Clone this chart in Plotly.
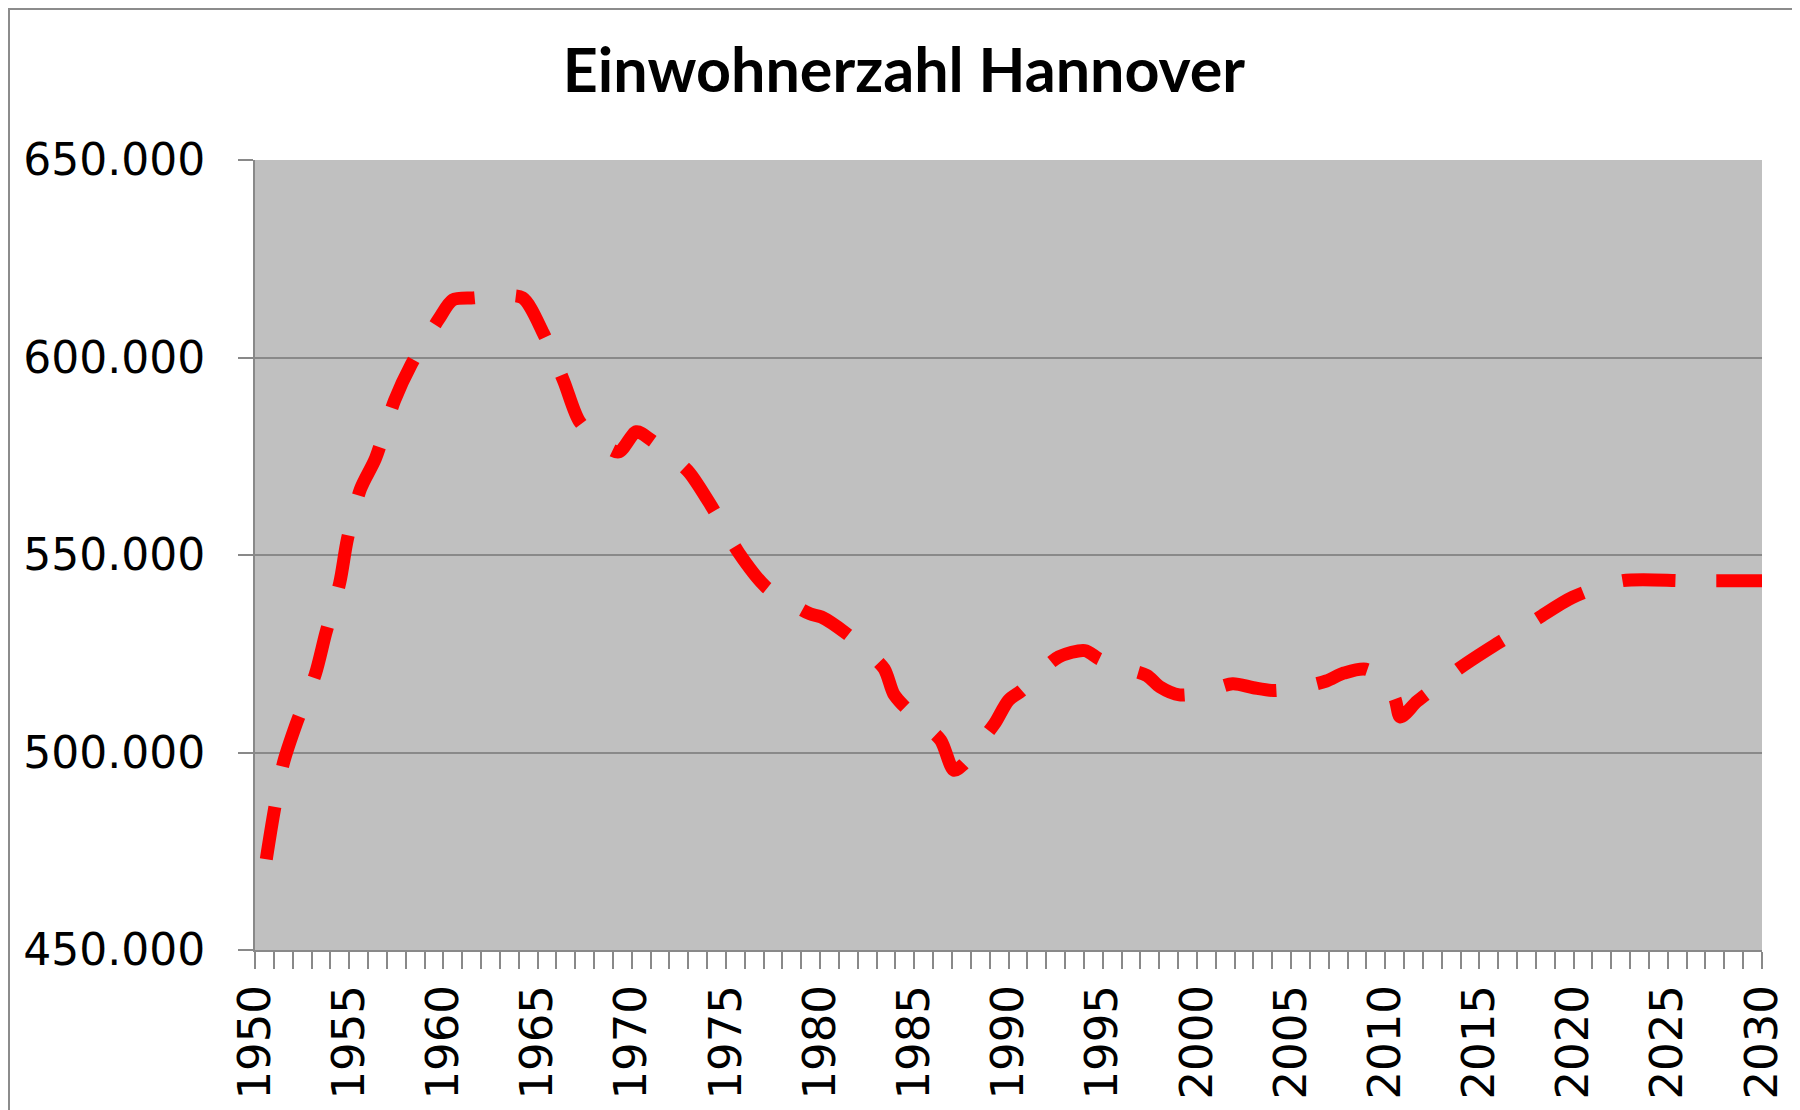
import plotly.graph_objects as go

# Data (fractional years, inhabitants)
years = [1950.6, 1951.0, 1951.5, 1952.2, 1953.2, 1953.75, 1954.5, 1954.9, 1955.6, 1956.4,
         1957.4, 1958.3, 1959.75, 1960.5, 1961.6, 1962.9, 1964.2, 1965.3, 1966.4, 1967.2,
         1968.2, 1969.3, 1970.25, 1971.0, 1972.0, 1973.05, 1974.3, 1975.7, 1977.1, 1978.3,
         1979.46, 1980.07, 1981.4, 1982.4, 1983.4, 1983.9, 1984.4, 1985.4, 1986.4, 1987.1,
         1987.6, 1988.4, 1989.26, 1990.0, 1990.7, 1991.7, 1992.67, 1994.05, 1994.8, 1996.0,
         1997.34, 1998.05, 1999.07, 2000.5, 2001.9, 2003.0, 2004.05, 2005.5, 2006.87, 2007.8,
         2009.05, 2010.47, 2010.8, 2011.7, 2012.8, 2013.9, 2015.78, 2017.0, 2018.15, 2019.95,
         2022.6, 2026.0, 2030.0]
population = [473000, 484700, 497200, 507400, 519800, 530100, 543000, 553900, 566700, 574500,
              589000, 598300, 609700, 614600, 615100, 615600, 615100, 606200, 593900, 584000,
              579000, 576100, 581200, 579200, 575500, 570900, 561800, 550400, 542000, 538200,
              535100, 534300, 530100, 526000, 521200, 514900, 512000, 507600, 503100, 495500,
              497000, 502000, 507300, 513200, 515700, 520500, 524200, 525800, 523700, 521500,
              519500, 516600, 514600, 515500, 517400, 516400, 515700, 516500, 518100, 520100,
              521000, 514100, 509000, 513000, 517000, 521200, 527100, 530600, 534100, 539300,
              543500, 543500, 543500]

y_ticks = [450000, 500000, 550000, 600000, 650000]
x_ticks = list(range(1950, 2031, 5))
x_tick_labels = [str(v) for v in x_ticks]
title_text = "Einwohnerzahl Hannover"

# page body has an 8px margin; figure sized to fill the rest of the window
W, H = 1792, 1102
ML, MR, MT, MB = 247, 38, 152, 160
PW, PH = W - ML - MR, H - MT - MB

fig = go.Figure()
fig.add_trace(go.Scatter(
    x=years, y=population, mode="lines",
    line=dict(color="#FF0000", width=13, dash="53px,41px", shape="spline", smoothing=0.8),
    showlegend=False, hoverinfo="skip",
))

grid_col = "#898989"
fig.update_layout(
    width=W, height=H,
    paper_bgcolor="white", plot_bgcolor="#C0C0C0",
    margin=dict(l=ML, r=MR, t=MT, b=MB, autoexpand=False),
    separators=",.",
    title=dict(text="<b>" + title_text + "</b>", x=0.5, xanchor="center",
               y=1 - 63 / H, yanchor="middle",
               font=dict(family="Lato", size=61, color="black")),
    xaxis=dict(range=[1950, 2030], tickmode="array", tickvals=x_ticks, ticktext=x_tick_labels,
               tickangle=-90, ticks="outside", ticklen=17, tickwidth=2, tickcolor=grid_col,
               minor=dict(dtick=1, tick0=1950, ticks="outside", ticklen=17, tickwidth=2,
                          tickcolor=grid_col, showgrid=False),
               showline=True, linecolor=grid_col, linewidth=2, showgrid=False, zeroline=False,
               tickfont=dict(family="DejaVu Sans", size=45, color="black"),
               ticklabelstandoff=-2),
    yaxis=dict(range=[450000, 650000], tickvals=y_ticks, tickformat=",d",
               ticks="outside", ticklen=15, tickwidth=2, tickcolor=grid_col,
               showline=True, linecolor=grid_col, linewidth=2,
               showgrid=True, gridcolor=grid_col, gridwidth=2, zeroline=False,
               tickfont=dict(family="DejaVu Sans", size=44, color="black"),
               ticklabelstandoff=24),
    shapes=[dict(type="rect", xref="paper", yref="paper",
                 x0=(1 - ML) / PW, x1=(1789 - ML) / PW,
                 y0=-(MB + 20) / PH, y1=(PH + MT - 1) / PH,
                 line=dict(color="#8C8C8C", width=2), fillcolor="rgba(0,0,0,0)", layer="below")],
)

fig.write_html("out.html")
